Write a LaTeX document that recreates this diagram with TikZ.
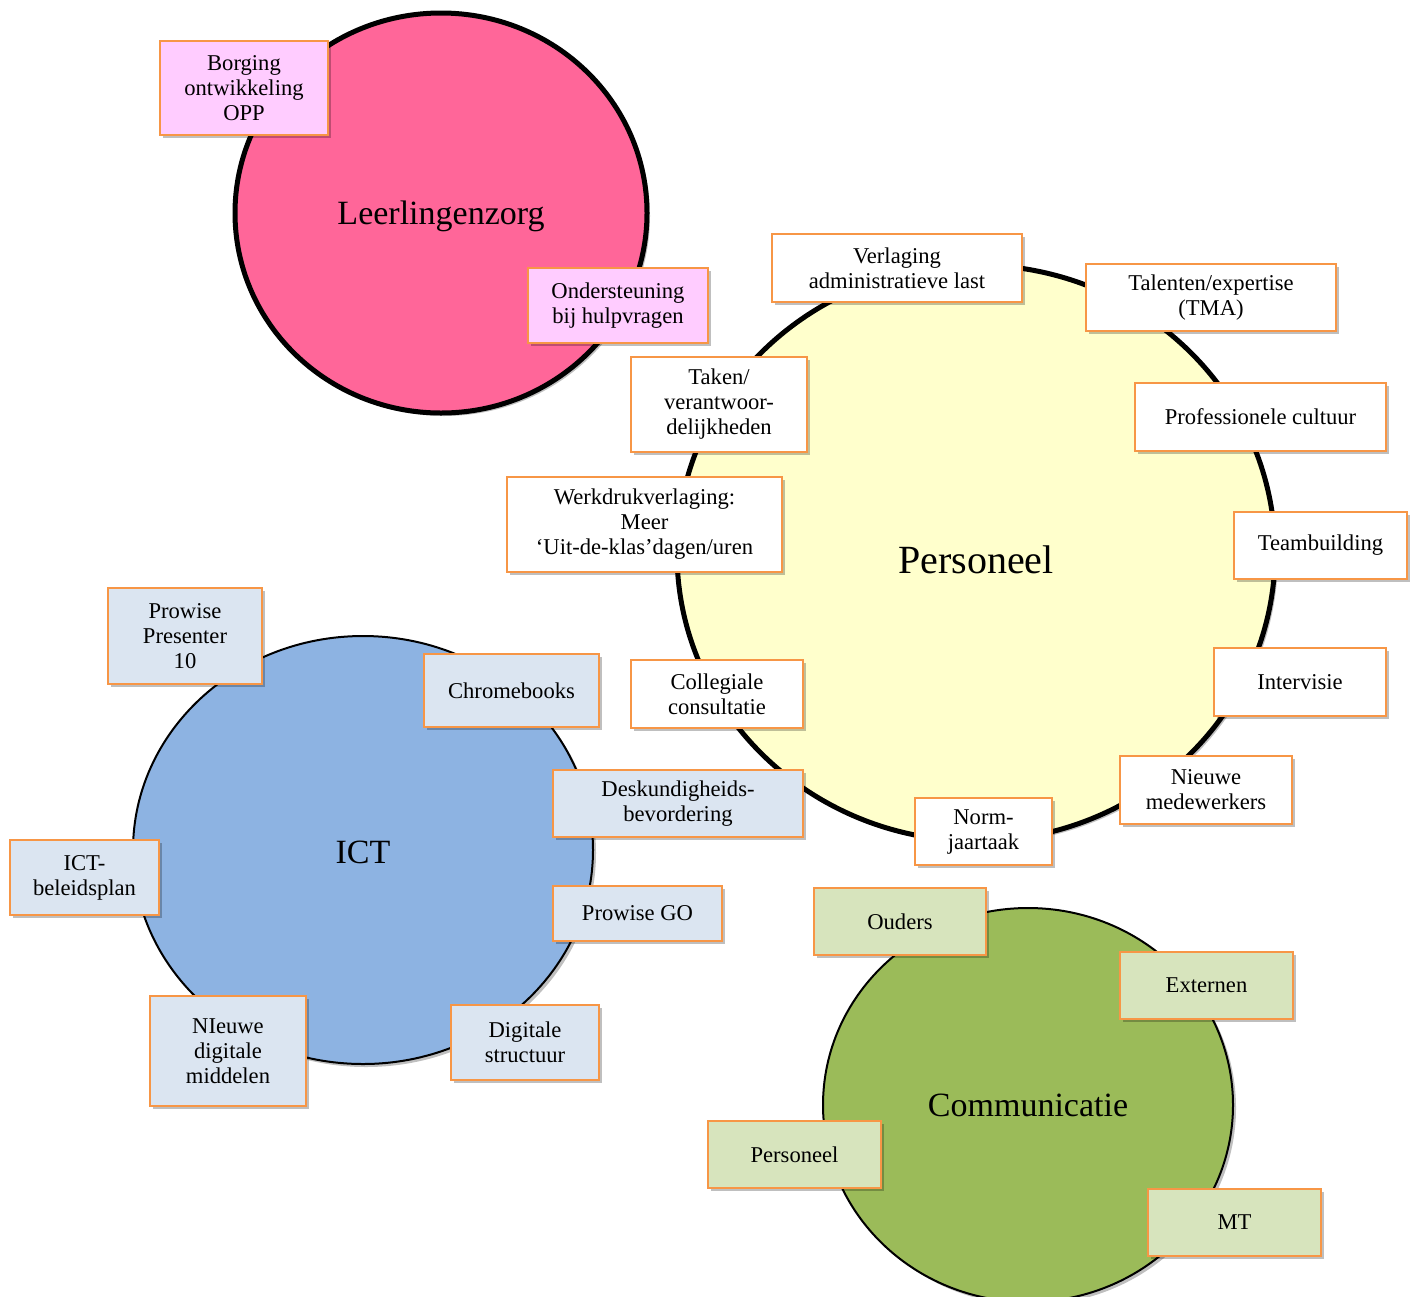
\documentclass[tikz,border=0pt]{standalone}
\usepackage{fontspec}
\setmainfont{Liberation Serif}
\usetikzlibrary{shapes.geometric,shadows}
\definecolor{zorgpink}{HTML}{FF6699}
\definecolor{perscream}{HTML}{FFFFCC}
\definecolor{ictblue}{HTML}{8DB3E2}
\definecolor{commgreen}{HTML}{9BBB59}
\definecolor{lightpink}{HTML}{FFCCFF}
\definecolor{lightblue}{HTML}{DBE5F1}
\definecolor{lightgreen}{HTML}{D7E4BD}
\definecolor{boxorange}{HTML}{F79646}
\begin{document}
\begin{tikzpicture}[x=0.5pt,y=-0.5pt,
  soft/.style={drop shadow={shadow xshift=1.5pt,shadow yshift=-1.5pt,fill=black,opacity=0.25}},
  blob/.style={ellipse,draw=black,soft,inner sep=0pt},
  title/.style={font=\fontsize{17}{20}\selectfont},
  lbl/.style={draw=boxorange,line width=1pt,fill=white,align=center,inner sep=0pt,soft,
    font=\fontsize{11.3}{12.5}\selectfont},
  pinkbox/.style={lbl,fill=lightpink},
  bluebox/.style={lbl,fill=lightblue},
  greenbox/.style={lbl,fill=lightgreen}]
\useasboundingbox (0,0) rectangle (1416,1296);
% the four themes
\node[blob,fill=zorgpink,line width=2.5pt,minimum width=206pt,minimum height=200pt,
  label={[title,yshift=-1.5pt]center:Leerlingenzorg}] (zorg) at (441,213) {};
\node[blob,fill=perscream,line width=2.5pt,minimum width=299pt,minimum height=288pt,
  label={[font=\fontsize{20}{24}\selectfont,yshift=-3.5pt]center:Personeel}] (pers) at (976,553) {};
\node[blob,fill=ictblue,line width=1pt,minimum width=230pt,minimum height=214pt,
  label={[title,yshift=-1pt]center:ICT}] (ict) at (363,850) {};
\node[blob,fill=commgreen,line width=1pt,minimum width=205pt,minimum height=197pt,
  label={[title]center:Communicatie}] (comm) at (1028,1105) {};
% Leerlingenzorg
\node[pinkbox,minimum width=84pt,minimum height=47pt] (borging) at (244,88) {Borging\\ontwikkeling\\OPP};
\node[pinkbox,minimum width=90pt,minimum height=37.5pt] (onderst) at (618,305.5) {Ondersteuning\\bij hulpvragen};
% Personeel
\node[lbl,minimum width=125pt,minimum height=34pt] (verlaging) at (897,268) {Verlaging\\administratieve last};
\node[lbl,minimum width=125pt,minimum height=33.5pt] (talenten) at (1211,297.5) {Talenten/expertise\\(TMA)};
\node[lbl,minimum width=88pt,minimum height=47.5pt] (taken) at (719,404.5) {Taken/\\verantwoor-\\delijkheden};
\node[lbl,minimum width=125.5pt,minimum height=34pt] (cultuur) at (1260.5,417) {Professionele cultuur};
\node[lbl,minimum width=137.5pt,minimum height=47.5pt] (werkdruk) at (644.5,524.5) {Werkdrukverlaging:\\Meer\\`Uit-de-klas'dagen/uren};
\node[lbl,minimum width=86.5pt,minimum height=33.5pt] (team) at (1320.5,545.5) {Teambuilding};
\node[lbl,minimum width=86pt,minimum height=34pt] (collegiaal) at (717,694) {Collegiale\\consultatie};
\node[lbl,minimum width=86pt,minimum height=34pt] (intervisie) at (1300,682) {Intervisie};
\node[lbl,minimum width=86pt,minimum height=34pt] (nieuw) at (1206,790) {Nieuwe\\medewerkers};
\node[lbl,minimum width=68.5pt,minimum height=33.5pt] (norm) at (983.5,831.5) {Norm-\\jaartaak};
% ICT
\node[bluebox,minimum width=77pt,minimum height=48pt] (presenter) at (185,636) {Prowise\\Presenter\\10};
\node[bluebox,minimum width=87.5pt,minimum height=36.5pt] (chrome) at (511.5,690.5) {Chromebooks};
\node[bluebox,minimum width=125pt,minimum height=33.5pt] (deskundig) at (678,803.5) {Deskundigheids-\\bevordering};
\node[bluebox,minimum width=74.5pt,minimum height=37.5pt] (beleid) at (84.5,877.5) {ICT-\\beleidsplan};
\node[bluebox,minimum width=84.5pt,minimum height=27.5pt] (go) at (637.5,913.5) {Prowise GO};
\node[bluebox,minimum width=78pt,minimum height=55pt] (middelen) at (228,1051) {NIeuwe\\digitale\\middelen};
\node[bluebox,minimum width=74pt,minimum height=37.5pt] (structuur) at (525,1042.5) {Digitale\\structuur};
% Communicatie
\node[greenbox,minimum width=86pt,minimum height=33.5pt] (ouders) at (900,921.5) {Ouders};
\node[greenbox,minimum width=86.5pt,minimum height=33.5pt] (externen) at (1206.5,985.5) {Externen};
\node[greenbox,minimum width=86.5pt,minimum height=33.5pt] (personeel) at (794.5,1154.5) {Personeel};
\node[greenbox,minimum width=86.5pt,minimum height=33.5pt] (mt) at (1234.5,1222.5) {MT};
\end{tikzpicture}
\end{document}
